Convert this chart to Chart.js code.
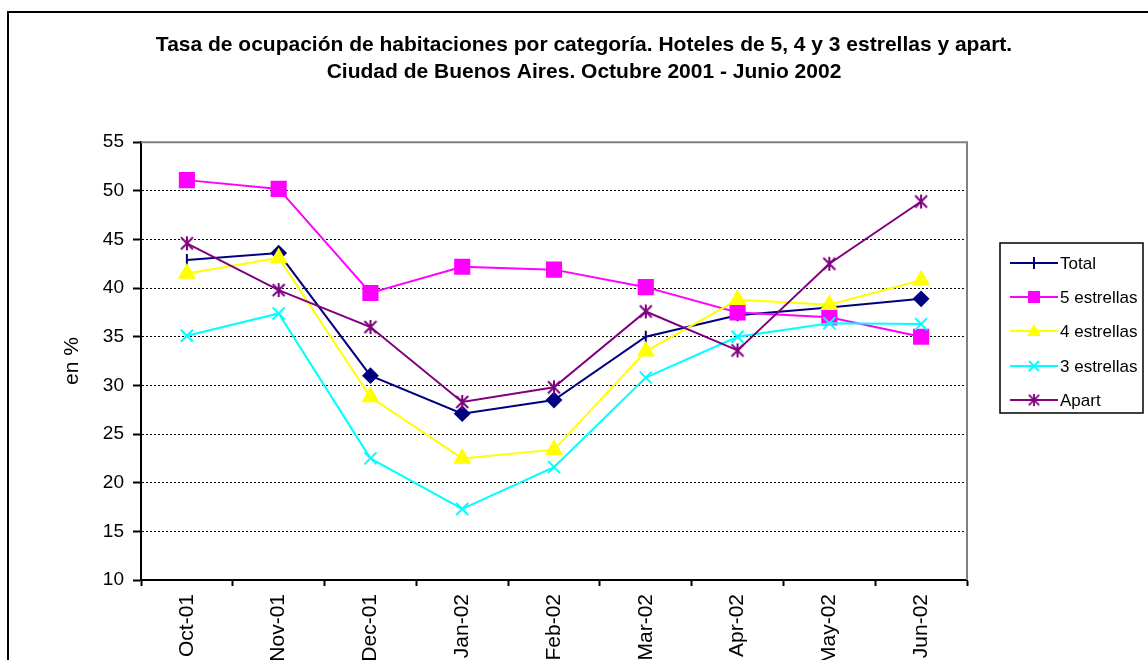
<!DOCTYPE html>
<html>
<head>
<meta charset="utf-8">
<script src="https://cdn.jsdelivr.net/npm/chart.js@4/dist/chart.umd.min.js"></script>
<style>
  html, body { margin: 0; padding: 0; background: #fff; }
  #wrap { width: 1148px; height: 660px; position: relative; }
</style>
</head>
<body>
<div id="wrap"><canvas id="myChart1" width="1148" height="660"></canvas></div>
<script>
// data
var labels = ['Oct-01','Nov-01','Dec-01','Jan-02','Feb-02','Mar-02','Apr-02','May-02','Jun-02'];
var total = [42.9, 43.6, 31.0, 27.1, 28.5, 35.0, 37.2, 38.0, 38.9];
var cinco = [51.1, 50.2, 39.5, 42.2, 41.9, 40.1, 37.5, 37.0, 35.0];
var cuatro = [41.5, 43.1, 28.8, 22.5, 23.4, 33.5, 38.8, 38.3, 40.8];
var tres = [35.1, 37.4, 22.5, 17.3, 21.6, 30.8, 35.0, 36.4, 36.3];
var apart = [44.6, 39.8, 36.0, 28.3, 29.8, 37.6, 33.6, 42.5, 48.9];
var series_names = ['Total','5 estrellas','4 estrellas','3 estrellas','Apart'];
var title_lines = ['Tasa de ocupación de habitaciones por categoría. Hoteles de 5, 4 y 3 estrellas y apart.',
  'Ciudad de Buenos Aires. Octubre 2001 - Junio 2002'];

var FONT = "Arial, 'Liberation Sans', sans-serif";

// excel style asterisk (x plus a vertical bar)
function asterisk(color){
  var c = document.createElement('canvas');
  c.width = 16; c.height = 16;
  var g = c.getContext('2d');
  g.strokeStyle = color; g.lineWidth = 2;
  g.beginPath();
  g.moveTo(8,1); g.lineTo(8,15);
  g.moveTo(2,2); g.lineTo(14,14);
  g.moveTo(14,2); g.lineTo(2,14);
  g.stroke();
  return c;
}
var apartMark = asterisk('#800080');

// total series uses a tick on some points and diamonds on others
var totalStyle = ['line','rectRot','rectRot','rectRot','rectRot','line','line','rectRot','rectRot'];
var totalRot = totalStyle.map(function(s){ return s == 'line' ? 90 : 0; });
var totalRad = totalStyle.map(function(s){ return s == 'line' ? 6 : 7; });

function ds(label, data, color, style, radius, order){
  return {
    label: label, data: data,
    borderColor: color, backgroundColor: color,
    pointBackgroundColor: color, pointBorderColor: color,
    borderWidth: 2, pointBorderWidth: 2,
    pointStyle: style, pointRadius: radius, pointHoverRadius: radius,
    tension: 0, fill: false, order: order
  };
}

var totalDs = ds(series_names[0], total, '#000080', totalStyle, totalRad, 5);
totalDs.pointRotation = totalRot;

const data = {
  labels: labels,
  datasets: [
    totalDs,
    ds(series_names[1], cinco, '#FF00FF', 'rect', 10, 4),
    ds(series_names[2], cuatro, '#FFFF00', 'triangle', 8.5, 3),
    ds(series_names[3], tres, '#00FFFF', 'crossRot', 8.5, 2),
    ds(series_names[4], apart, '#800080', apartMark, 8, 1)
  ]
};

// frame, plot border and the excel legend box
const excelBits = {
  id: 'excelBits',
  afterDraw: function(chart){
    var ctx = chart.ctx;
    var a = chart.chartArea;
    ctx.save();
    // outer frame
    ctx.strokeStyle = '#000'; ctx.lineWidth = 2;
    ctx.beginPath();
    ctx.moveTo(8, 700); ctx.lineTo(8, 12); ctx.lineTo(1160, 12);
    ctx.stroke();
    // plot border top / right
    ctx.strokeStyle = '#808080'; ctx.lineWidth = 2;
    ctx.beginPath();
    ctx.moveTo(a.left, a.top); ctx.lineTo(a.right, a.top); ctx.lineTo(a.right, a.bottom);
    ctx.stroke();
    // legend
    var lx = 1000, ly = 243, lw = 143, lh = 170;
    ctx.fillStyle = '#fff';
    ctx.fillRect(lx, ly, lw, lh);
    ctx.strokeStyle = '#000'; ctx.lineWidth = 1.5;
    ctx.strokeRect(lx, ly, lw, lh);
    ctx.font = '17px ' + FONT;
    ctx.textBaseline = 'middle';
    var ys = [263, 297, 331, 366, 400];
    chart.data.datasets.forEach(function(d, i){
      var y = ys[i];
      ctx.strokeStyle = d.borderColor; ctx.fillStyle = d.borderColor; ctx.lineWidth = 2;
      ctx.beginPath(); ctx.moveTo(1010, y); ctx.lineTo(1058, y); ctx.stroke();
      var cx = 1034;
      ctx.beginPath();
      if (i == 0) { ctx.moveTo(cx, y - 6); ctx.lineTo(cx, y + 6); ctx.stroke(); }
      else if (i == 1) { ctx.fillRect(cx - 6, y - 6, 12, 12); }
      else if (i == 2) { ctx.moveTo(cx, y - 7); ctx.lineTo(cx + 7, y + 5); ctx.lineTo(cx - 7, y + 5); ctx.closePath(); ctx.fill(); }
      else if (i == 3) { ctx.moveTo(cx - 5, y - 5); ctx.lineTo(cx + 5, y + 5); ctx.moveTo(cx + 5, y - 5); ctx.lineTo(cx - 5, y + 5); ctx.stroke(); }
      else { ctx.drawImage(apartMark, cx - 7, y - 7, 14, 14); }
      ctx.fillStyle = '#000';
      ctx.fillText(d.label, 1060, y + 1);
    });
    ctx.restore();
  }
};

const config = {
  type: 'line',
  data: data,
  options: {
    responsive: false,
    animation: false,
    events: [],
    layout: { padding: { top: 12, left: 20, right: 0, bottom: 0 } },
    plugins: {
      legend: { display: false },
      tooltip: { enabled: false },
      title: {
        display: true,
        text: title_lines,
        color: '#000',
        font: { family: FONT, size: 21, weight: 'bold', lineHeight: 1.29 },
        padding: { top: 20, bottom: 56 }
      }
    },
    scales: {
      x: {
        offset: true,
        grid: { offset: true, drawOnChartArea: false, drawTicks: true, tickLength: 6, color: '#000', tickWidth: 2 },
        border: { display: true, color: '#000', width: 2 },
        ticks: { color: '#000', font: { family: FONT, size: 21 }, minRotation: 90, maxRotation: 90, padding: 8, autoSkip: false },
        afterFit: function(s){ s.height = 80; }
      },
      y: {
        min: 10, max: 55,
        ticks: { stepSize: 5, color: '#000', font: { family: FONT, size: 19 }, padding: 9 },
        grid: {
          color: function(c){ return (c.tick.value == 10 || c.tick.value == 55) ? 'rgba(0,0,0,0)' : '#000'; },
          tickColor: '#000', tickLength: 8, tickWidth: 2, tickBorderDash: [], lineWidth: 1
        },
        border: { display: true, color: '#000', width: 2, dash: [2, 2] },
        title: { display: true, text: 'en %', color: '#000', font: { family: FONT, size: 21 }, padding: { top: 40, bottom: 0 } },
        afterFit: function(s){ s.width = 121; }
      },
      yR: {
        position: 'right',
        grid: { display: false },
        border: { display: false },
        ticks: { display: false },
        afterFit: function(s){ s.width = 181; }
      }
    }
  },
  plugins: [excelBits]
};

const myChart1 = new Chart(document.getElementById('myChart1'), config);
</script>
</body>
</html>
